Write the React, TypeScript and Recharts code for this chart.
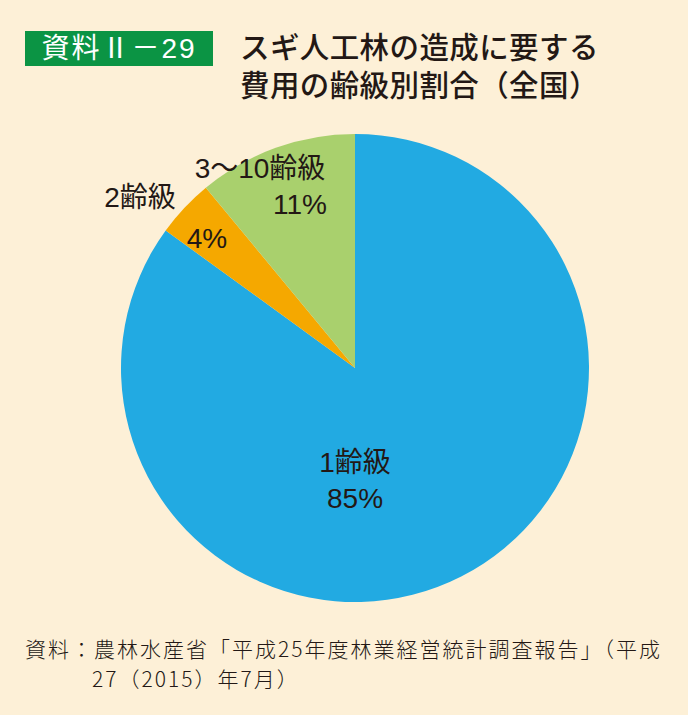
import { PieChart, Pie, Cell } from "recharts";

const categories = ["1齢級", "2齢級", "3～10齢級"];
const shares = [85, 4, 11];
const sliceColors = ["#22aae2", "#f5a800", "#a9d06d"];

// label offsets relative to pie centre: [name dx, name dy, pct dx, pct dy]
const labelPos = [
  [0, 94, 0, 130],
  [-215, -171, -148, -130],
  [-95, -200, -55, -164],
];

const data = categories.map((c, i) => ({ name: c, value: shares[i] }));

const FONT = '"Noto Sans CJK JP", "Noto Sans", sans-serif';
const LABEL_FONT = '"Liberation Sans", "Noto Sans CJK JP", sans-serif';
const INK = "#231815";

function renderLabel(props: any) {
  const { cx, cy, index, name, value } = props;
  const p = labelPos[index];
  return (
    <g>
      <text
        x={cx + p[0]}
        y={cy + p[1]}
        textAnchor="middle"
        dominantBaseline="central"
        fontSize={28}
        fill={INK}
        fontFamily={LABEL_FONT}
      >
        {name}
      </text>
      <text
        x={cx + p[2]}
        y={cy + p[3]}
        textAnchor="middle"
        dominantBaseline="central"
        fontSize={28}
        fill={INK}
        fontFamily={LABEL_FONT}
      >
        {value}%
      </text>
    </g>
  );
}

export default function App() {
  return (
    <div
      style={{
        position: "absolute",
        left: 0,
        top: 0,
        width: 688,
        height: 715,
        background: "#fdf0d7",
        fontFamily: FONT,
        color: INK,
        overflow: "hidden",
      }}
    >
      <PieChart width={688} height={715} margin={{ top: 0, right: 0, bottom: 0, left: 0 }}>
        <Pie
          data={data}
          dataKey="value"
          nameKey="name"
          cx={355}
          cy={368}
          outerRadius={234}
          startAngle={90}
          endAngle={-270}
          stroke="none"
          label={renderLabel}
          labelLine={false}
          isAnimationActive={false}
        >
          {data.map((_, i) => (
            <Cell key={i} fill={sliceColors[i]} />
          ))}
        </Pie>
      </PieChart>

      <div
        style={{
          position: "absolute",
          left: 25,
          top: 31,
          width: 188,
          height: 35,
          background: "#0b9444",
          color: "#fff",
          fontSize: 28,
          lineHeight: "35px",
          textAlign: "center",
          letterSpacing: 2,
          fontFamily: LABEL_FONT,
        }}
      >
        資料Ⅱ－29
      </div>
      <div
        style={{
          position: "absolute",
          left: 240,
          top: 26,
          fontSize: 29.5,
          lineHeight: "38px",
          fontWeight: 500,
          whiteSpace: "nowrap",
          letterSpacing: 0.4,
        }}
      >
        スギ人工林の造成に要する
        <br />
        費用の齢級別割合（全国）
      </div>
      <div
        style={{
          position: "absolute",
          left: 25,
          top: 633,
          fontSize: 21,
          lineHeight: "30px",
          fontWeight: 300,
          whiteSpace: "nowrap",
          letterSpacing: 2,
        }}
      >
        資料：農林水産省「平成25年度林業経営統計調査報告」（平成
        <br />
        <span style={{ marginLeft: 67 }}>27（2015）年7月）</span>
      </div>
    </div>
  );
}
